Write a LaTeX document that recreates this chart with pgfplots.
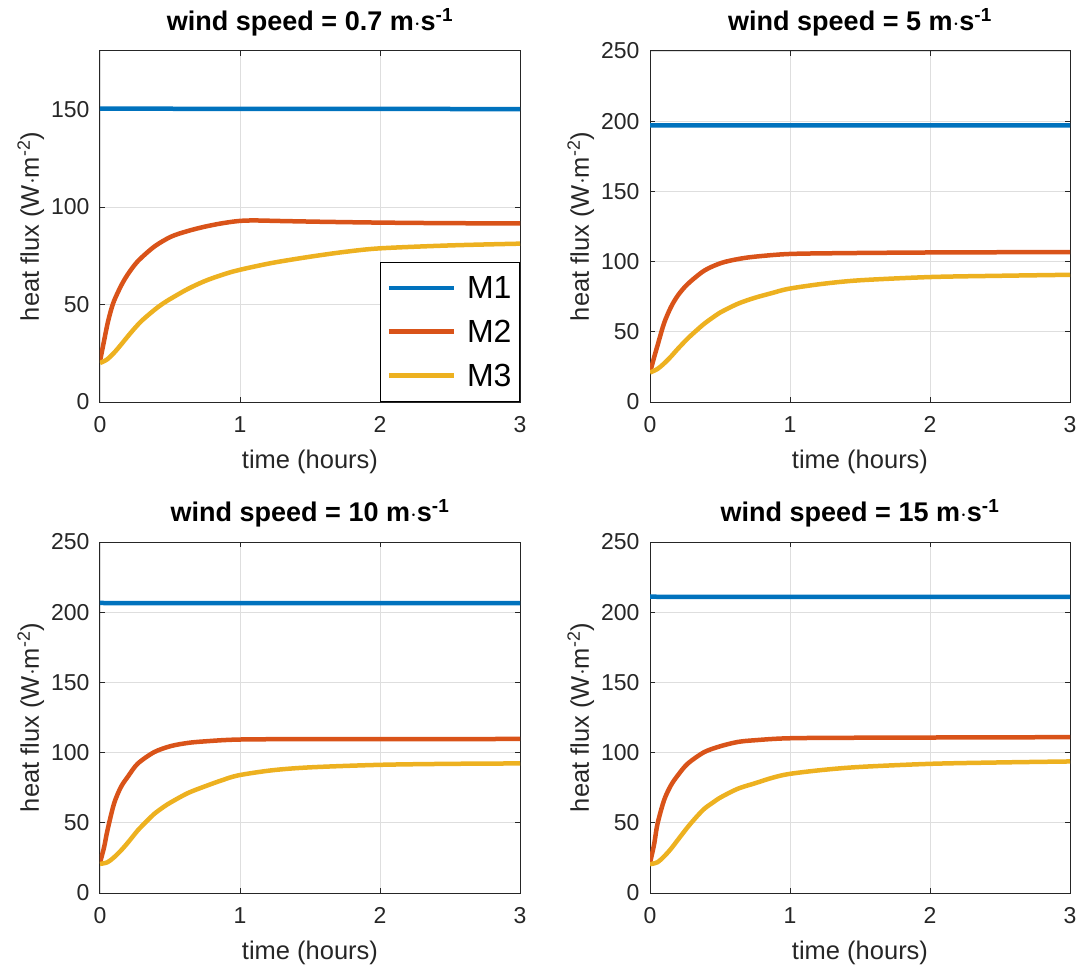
\documentclass[border=0pt]{standalone}
\usepackage{fontspec}
\setmainfont{Liberation Sans}
\usepackage{pgfplots}
\pgfplotsset{compat=1.18}
\definecolor{mA}{rgb}{0,0.447,0.741}
\definecolor{mB}{rgb}{0.85,0.325,0.098}
\definecolor{mC}{rgb}{0.929,0.694,0.125}
\definecolor{axc}{rgb}{0.15,0.15,0.15}
\definecolor{gridc}{rgb}{0.87,0.87,0.87}
\pgfplotsset{
 mystyle/.style={
  scale only axis, width=420pt, height=351pt,
  xmin=0, xmax=3, ymin=0,
  xtick={0,1,2,3},
  grid=major, major grid style={color=gridc, line width=0.8pt},
  axis line style={color=axc, line width=1pt},
  every tick/.style={color=axc, line width=1pt},
  tick align=inside, major tick length=5pt,
  ticklabel style={font=\fontsize{23}{27}\selectfont, text=axc},
  xticklabel style={yshift=-11pt},
  yticklabel style={xshift=-7pt},
  label style={font=\fontsize{25.5}{30}\selectfont, text=axc},
  xlabel style={yshift=-10pt},
  title style={font=\bfseries\fontsize{27}{31}\selectfont, text=black, yshift=5pt},
  xlabel={time (hours)},
  ylabel={heat flux (W$\cdot$m\textsuperscript{-2})},
  every axis plot/.append style={line width=4.5pt, no markers, smooth, tension=0.5},
  /pgf/number format/assume math mode=true,
  legend image code/.code={\draw[#1] (0pt,0pt) -- (65pt,0pt); \path (74pt,0pt);},
 }
}
\begin{document}
\begin{tikzpicture}
% ---------- panel 1 ----------
\begin{axis}[mystyle, at={(100pt,-402pt)}, anchor=south west,
  ymax=180, ytick={0,50,100,150},
  title={wind speed = 0.7 m$\cdot$s\textsuperscript{-1}},
  legend style={at={(1,0)}, anchor=south east, draw=black, line width=1pt,
    font=\fontsize{32}{38}\selectfont, row sep=16pt, inner xsep=6pt, inner ysep=12pt},
  legend cell align=left]
\addplot[mA] coordinates {(0,150.5) (1,150.3) (2,150.3) (3,150.2)};
\addplot[mB] coordinates {(0,21) (0.029,31.4) (0.053,39.9) (0.077,46.7) (0.1,51.8) (0.149,59.4) (0.197,65.3) (0.269,72.1) (0.388,79.7) (0.508,84.8) (0.628,87.7) (0.748,89.9) (0.868,91.6) (0.988,92.8) (1.1,93.1) (1.3,92.8) (1.6,92.4) (2.0,92.0) (2.5,91.7) (3.0,91.6)};
\addplot[mC] coordinates {(0,20) (0.05,21.8) (0.1,25.2) (0.149,29.3) (0.2,33.8) (0.25,38) (0.3,41.8) (0.388,47.2) (0.45,50.5) (0.508,53.1) (0.628,58) (0.748,62) (0.868,65.1) (0.988,67.6) (1.228,71.3) (1.5,74.5) (1.75,77) (2.0,78.8) (2.5,80.3) (3.0,81.2)};
\legend{M1,M2,M3}
\end{axis}
% ---------- panel 2 ----------
\begin{axis}[mystyle, at={(650pt,-402pt)}, anchor=south west,
  ymax=250, ytick={0,50,100,150,200,250},
  title={wind speed = 5 m$\cdot$s\textsuperscript{-1}}]
\addplot[mA] coordinates {(0,198) (0.05,197) (1,197) (2,197) (3,197)};
\addplot[mB] coordinates {(0,21) (0.03,32) (0.053,40) (0.1,56) (0.149,67.5) (0.2,76) (0.269,84) (0.388,93.6) (0.508,99) (0.628,101.8) (0.748,103.5) (0.988,105.4) (1.35,106) (2,106.5) (3,106.8)};
\addplot[mC] coordinates {(0,21) (0.053,23.5) (0.1,27.4) (0.149,32.3) (0.2,38) (0.269,45.2) (0.33,50.8) (0.388,55.8) (0.45,60.3) (0.508,64.1) (0.628,70) (0.748,74.2) (0.868,77.5) (0.988,80.6) (1.228,84.1) (1.5,86.7) (2,89) (2.5,89.9) (3,90.6)};
\end{axis}
% ---------- panel 3 ----------
\begin{axis}[mystyle, at={(100pt,-893pt)}, anchor=south west,
  ymax=250, ytick={0,50,100,150,200,250},
  title={wind speed = 10 m$\cdot$s\textsuperscript{-1}}]
\addplot[mA] coordinates {(0,208) (0.05,206.5) (1,206.5) (2,206.5) (3,206.5)};
\addplot[mB] coordinates {(0,21.5) (0.03,33) (0.053,44.5) (0.1,63.6) (0.149,75.4) (0.2,83) (0.269,92.1) (0.388,100.4) (0.508,104.7) (0.628,106.9) (0.748,108) (0.988,109.3) (1.5,109.6) (3,109.7)};
\addplot[mC] coordinates {(0,20.7) (0.053,21.9) (0.1,25.4) (0.149,30.2) (0.2,36) (0.269,44.5) (0.33,50.8) (0.388,56.4) (0.45,61) (0.508,64.7) (0.628,71.2) (0.748,75.9) (0.868,80.2) (0.988,83.8) (1.228,87.4) (1.5,89.5) (2,91.3) (2.5,92) (3,92.3)};
\end{axis}
% ---------- panel 4 ----------
\begin{axis}[mystyle, at={(650pt,-893pt)}, anchor=south west,
  ymax=250, ytick={0,50,100,150,200,250},
  title={wind speed = 15 m$\cdot$s\textsuperscript{-1}}]
\addplot[mA] coordinates {(0,212.5) (0.05,211) (1,211) (2,211) (3,211)};
\addplot[mB] coordinates {(0,21.5) (0.03,35) (0.053,49) (0.1,66) (0.149,76.6) (0.2,84) (0.269,92.1) (0.388,100.4) (0.508,104.7) (0.628,107.6) (0.748,108.8) (0.988,110.2) (1.5,110.6) (3,111)};
\addplot[mC] coordinates {(0,20.5) (0.053,21.9) (0.1,26) (0.149,31.4) (0.2,38) (0.269,46.9) (0.33,54) (0.388,60) (0.45,64.5) (0.508,68.3) (0.628,74.3) (0.748,78.1) (0.868,81.9) (0.988,84.7) (1.228,87.6) (1.5,89.8) (2,92) (2.5,93) (3,93.7)};
\end{axis}
\pgfresetboundingbox
\path (0pt,0pt) rectangle (1078pt,-968pt);
\end{tikzpicture}
\end{document}
